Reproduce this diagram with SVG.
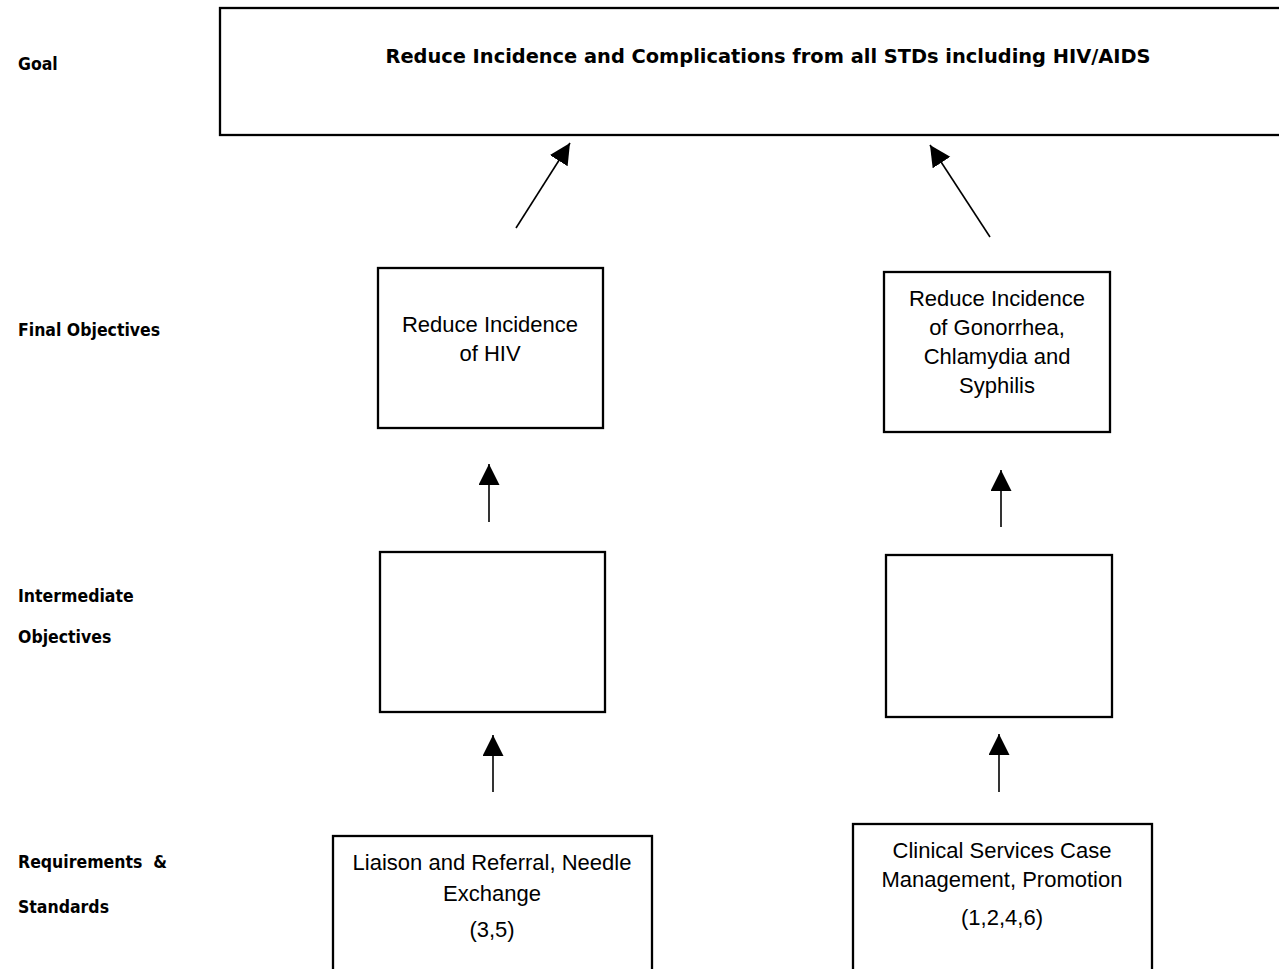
<svg xmlns="http://www.w3.org/2000/svg" width="1279" height="969" viewBox="0 0 1279 969">
  <defs>
    <marker id="head" markerUnits="userSpaceOnUse" markerWidth="22" markerHeight="22" refX="21" refY="10.5" orient="auto">
      <path d="M0,0 L21,10.5 L0,21 Z" fill="#000"/>
    </marker>
    <style>
      .box { fill: #fff; stroke: #000; stroke-width: 2.3; }
      .lvl { font-family: "DejaVu Sans Condensed", "DejaVu Sans", sans-serif; font-stretch: condensed; font-weight: bold; font-size: 17.5px; fill: #000; }
      .goal { font-family: "DejaVu Sans", sans-serif; font-weight: bold; font-size: 19.4px; fill: #000; text-anchor: middle; }
      .txt { font-family: "Liberation Sans", Arial, sans-serif; font-size: 22px; fill: #000; text-anchor: middle; }
      .conn line { stroke: #000; stroke-width: 1.6; marker-end: url(#head); }
    </style>
  </defs>
  <rect width="1279" height="969" fill="#fff"/>

  <!-- level labels -->
  <g id="levels">
    <text class="lvl" x="18" y="70">Goal</text>
    <text class="lvl" x="18" y="336">Final Objectives</text>
    <text class="lvl" x="18" y="602">Intermediate</text>
    <text class="lvl" x="18" y="643">Objectives</text>
    <text class="lvl" x="18" y="868" xml:space="preserve">Requirements  &amp;</text>
    <text class="lvl" x="18" y="913">Standards</text>
  </g>

  <!-- goal -->
  <g id="goal">
    <rect class="box" x="220" y="8" width="1080" height="127"/>
    <text class="goal" x="768" y="63">Reduce Incidence and Complications from all STDs including HIV/AIDS</text>
  </g>

  <!-- final objectives -->
  <g id="final-hiv">
    <rect class="box" x="378" y="268" width="225" height="160"/>
    <text class="txt" x="490" y="332">Reduce Incidence</text>
    <text class="txt" x="490" y="361">of HIV</text>
  </g>
  <g id="final-std">
    <rect class="box" x="884" y="272" width="226" height="160"/>
    <text class="txt" x="997" y="306">Reduce Incidence</text>
    <text class="txt" x="997" y="335">of Gonorrhea,</text>
    <text class="txt" x="997" y="364">Chlamydia and</text>
    <text class="txt" x="997" y="393">Syphilis</text>
  </g>

  <!-- intermediate objectives -->
  <g id="inter-hiv">
    <rect class="box" x="380" y="552" width="225" height="160"/>
  </g>
  <g id="inter-std">
    <rect class="box" x="886" y="555" width="226" height="162"/>
  </g>

  <!-- requirements and standards -->
  <g id="req-hiv">
    <rect class="box" x="333" y="836" width="319" height="160"/>
    <text class="txt" x="492" y="870">Liaison and Referral, Needle</text>
    <text class="txt" x="492" y="901">Exchange</text>
    <text class="txt" x="492" y="937">(3,5)</text>
  </g>
  <g id="req-std">
    <rect class="box" x="853" y="824" width="299" height="170"/>
    <text class="txt" x="1002" y="858">Clinical Services Case</text>
    <text class="txt" x="1002" y="887">Management, Promotion</text>
    <text class="txt" x="1002" y="925">(1,2,4,6)</text>
  </g>

  <!-- connectors -->
  <g id="connectors" class="conn">
    <line x1="516" y1="228" x2="570" y2="143"/>
    <line x1="990" y1="237" x2="930" y2="145"/>
    <line x1="489" y1="522" x2="489" y2="464"/>
    <line x1="1001" y1="527" x2="1001" y2="470"/>
    <line x1="493" y1="792" x2="493" y2="735"/>
    <line x1="999" y1="792" x2="999" y2="734"/>
  </g>
</svg>
